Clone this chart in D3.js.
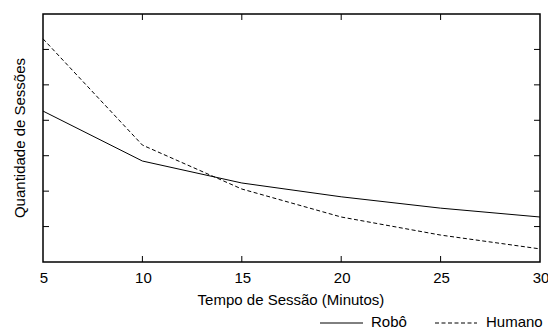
<!DOCTYPE html>
<html>
<head>
<meta charset="utf-8">
<script src="https://cdn.jsdelivr.net/npm/d3@7"></script>
<style>
  body { margin: 0; background: #fff; overflow: hidden; }
  text { font-family: "Liberation Sans", Arial, sans-serif; fill: #000; }
</style>
</head>
<body>
<svg id="chart" width="548" height="329"></svg>
<script>
const minutes = [5, 10, 15, 20, 25, 30];
const robo = [4.26, 2.85, 2.23, 1.84, 1.52, 1.27];
const humano = [6.3, 3.3, 2.06, 1.27, 0.76, 0.37];
const xTicks = [5, 10, 15, 20, 25, 30];
const yTicks = [1, 2, 3, 4, 5, 6];

const svg = d3.select('#chart');
const plotL = 43, plotR = 540, plotT = 14, plotB = 262;

const x = d3.scaleLinear().domain([5, 30]).range([plotL, plotR]);
const y = d3.scaleLinear().domain([0, 7]).range([plotB, plotT]);

// ticks, drawn inward on all four sides
const tick = 6;
const g = svg.append('g').attr('stroke', '#000').attr('stroke-width', 1);
for (let t of xTicks.slice(1, -1)) {
  g.append('line').attr('x1', x(t)).attr('x2', x(t)).attr('y1', plotB).attr('y2', plotB - tick);
  g.append('line').attr('x1', x(t)).attr('x2', x(t)).attr('y1', plotT).attr('y2', plotT + tick);
}
for (let t of yTicks) {
  g.append('line').attr('x1', plotL).attr('x2', plotL + tick).attr('y1', y(t)).attr('y2', y(t));
  g.append('line').attr('x1', plotR).attr('x2', plotR - tick).attr('y1', y(t)).attr('y2', y(t));
}

svg.append('g')
  .selectAll('text')
  .data(xTicks)
  .join('text')
    .attr('x', d => x(d) + 1)
    .attr('y', 283)
    .attr('text-anchor', 'middle')
    .attr('font-size', 15)
    .text(d => d);

const line = d3.line().x((d, i) => x(minutes[i])).y(d => y(d));

svg.append('path')
  .datum(robo)
  .attr('d', line)
  .attr('fill', 'none')
  .attr('stroke', '#000')
  .attr('stroke-width', 1);

svg.append('path')
  .datum(humano)
  .attr('d', line)
  .attr('fill', 'none')
  .attr('stroke', '#000')
  .attr('stroke-width', 1)
  .attr('stroke-dasharray', '4,2.5');

svg.append('rect')
  .attr('x', plotL).attr('y', plotT)
  .attr('width', plotR - plotL).attr('height', plotB - plotT)
  .attr('fill', 'none')
  .attr('stroke', '#000')
  .attr('stroke-width', 1.5);

svg.append('text')
  .attr('x', 291)
  .attr('y', 305)
  .attr('text-anchor', 'middle')
  .attr('font-size', 15)
  .text('Tempo de Sessão (Minutos)');

svg.append('text')
  .attr('transform', 'translate(25,138) rotate(-90)')
  .attr('text-anchor', 'middle')
  .attr('font-size', 15)
  .text('Quantidade de Sessões');

// legend
svg.append('line').attr('x1', 320).attr('x2', 363).attr('y1', 323).attr('y2', 323)
  .attr('stroke', '#000');
svg.append('text').attr('x', 371).attr('y', 327).attr('font-size', 15).text('Robô');
svg.append('line').attr('x1', 435).attr('x2', 477).attr('y1', 323).attr('y2', 323)
  .attr('stroke', '#000').attr('stroke-dasharray', '4,2.5');
svg.append('text').attr('x', 486).attr('y', 327).attr('font-size', 15).text('Humano');
</script>
</body>
</html>
